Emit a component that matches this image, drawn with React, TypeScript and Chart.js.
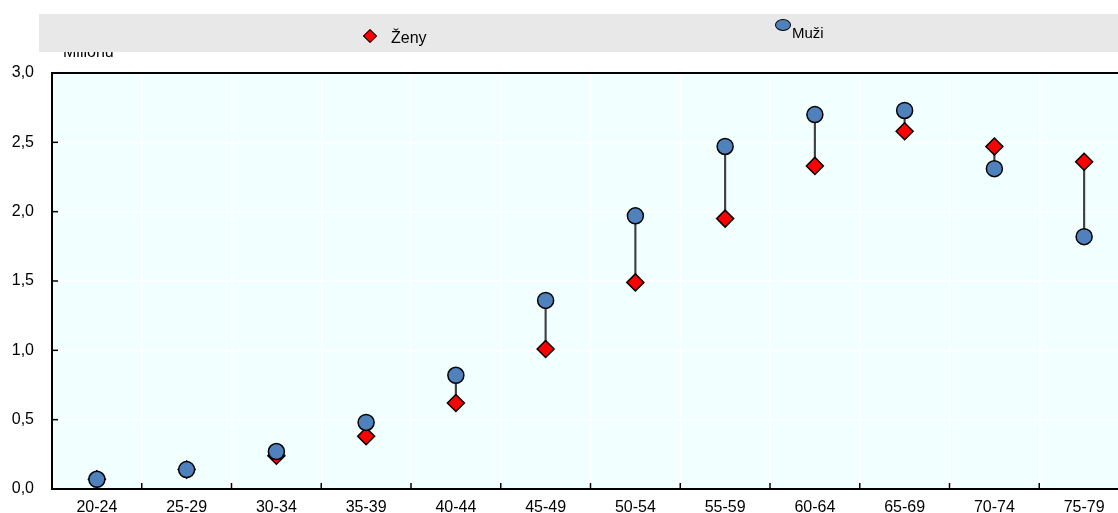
import React, { useEffect, useRef } from "react";
import { Chart, registerables } from "chart.js";

Chart.register(...registerables);

const categories = ["20-24", "25-29", "30-34", "35-39", "40-44", "45-49", "50-54", "55-59", "60-64", "65-69", "70-74", "75-79"];
const muzi = [0.07, 0.14, 0.27, 0.48, 0.82, 1.36, 1.97, 2.47, 2.70, 2.73, 2.31, 1.82];
const zeny = [0.07, 0.14, 0.24, 0.38, 0.62, 1.01, 1.49, 1.95, 2.33, 2.58, 2.47, 2.36];
const yMin = 0;
const yMax = 3;
const yStep = 0.5;
const seriesNames = ["Ženy", "Muži"];
const yTitle = "Milionů";

const FONT = "'Liberation Sans', Arial, sans-serif";
const CANVAS_W = 1129;

const plotDecor = {
  id: "plotDecor",
  beforeDraw(chart: any) {
    const { ctx, chartArea } = chart;
    ctx.save();
    ctx.fillStyle = "#F2FFFF";
    ctx.fillRect(chartArea.left, chartArea.top, chartArea.right - chartArea.left, chartArea.bottom - chartArea.top);
    ctx.restore();
  },
  afterDatasetsDraw(chart: any) {
    const { ctx, chartArea, scales } = chart;
    ctx.save();
    ctx.strokeStyle = "#000";
    ctx.lineWidth = 2;
    ctx.beginPath();
    ctx.moveTo(chartArea.left - 1, chartArea.top);
    ctx.lineTo(chartArea.right, chartArea.top);
    ctx.stroke();
    ctx.lineWidth = 1.5;
    const xs = scales.x;
    const n = categories.length;
    for (let i = 1; i < n; i++) {
      const px = (xs.getPixelForValue(i - 1) + xs.getPixelForValue(i)) / 2;
      ctx.beginPath();
      ctx.moveTo(px, chartArea.bottom);
      ctx.lineTo(px, chartArea.bottom - 6);
      ctx.stroke();
    }
    const ys = scales.y;
    for (let v = yMin + yStep; v < yMax; v += yStep) {
      const py = ys.getPixelForValue(v);
      ctx.beginPath();
      ctx.moveTo(chartArea.left, py);
      ctx.lineTo(chartArea.left + 6, py);
      ctx.stroke();
    }
    ctx.restore();
  },
};

export default function App() {
  const ref = useRef<HTMLCanvasElement | null>(null);

  useEffect(() => {
    if (!ref.current) return;
    const chart = new Chart(ref.current, {
      data: {
        labels: categories,
        datasets: [
          {
            type: "line",
            label: seriesNames[1],
            data: muzi,
            showLine: false,
            pointStyle: "circle",
            pointRadius: 8,
            pointBackgroundColor: "#4F81BD",
            pointBorderColor: "#000",
            pointBorderWidth: 1.5,
            order: 1,
          },
          {
            type: "line",
            label: seriesNames[0],
            data: zeny,
            showLine: false,
            pointStyle: "rectRot",
            pointRadius: 8.5,
            pointBackgroundColor: "#FF0000",
            pointBorderColor: "#000",
            pointBorderWidth: 1.5,
            order: 2,
          },
          {
            type: "bar",
            label: "range",
            data: zeny.map((z, i) => [z, muzi[i]]),
            backgroundColor: "#404040",
            borderWidth: 0,
            barThickness: 1.5,
            order: 3,
          },
        ],
      } as any,
      options: {
        animation: false,
        responsive: false,
        events: [],
        layout: { autoPadding: false, padding: { top: 73, right: 0, left: 0, bottom: 0 } },
        plugins: { legend: { display: false }, tooltip: { enabled: false } },
        scales: {
          x: {
            type: "category",
            offset: true,
            grid: { color: "#FFFFFF", lineWidth: 1.5, offset: true, drawTicks: false },
            border: { color: "#000", width: 2 },
            ticks: { color: "#000", font: { family: FONT, size: 16 }, padding: 9, maxRotation: 0, autoSkip: false },
            afterFit(scale: any) {
              scale.height = 24;
              scale.paddingLeft = 0;
              scale.paddingRight = 0;
            },
          },
          y: {
            min: yMin,
            max: yMax,
            grid: { color: "#FFFFFF", lineWidth: 1.5, drawTicks: false },
            border: { color: "#000", width: 2 },
            ticks: {
              stepSize: yStep,
              color: "#000",
              font: { family: FONT, size: 16 },
              padding: 18,
              callback: (v: any) => Number(v).toFixed(1).replace(".", ","),
            },
            afterFit(scale: any) {
              scale.width = 52;
              scale.paddingTop = 0;
              scale.paddingBottom = 0;
            },
          },
        },
      } as any,
      plugins: [plotDecor],
    });
    return () => chart.destroy();
  }, []);

  return (
    <div style={{ position: "fixed", left: 0, top: 0, width: 1118, height: 513, overflow: "hidden", background: "#fff", fontFamily: FONT }}>
      <canvas ref={ref} width={CANVAS_W} height={513} style={{ position: "absolute", left: 0, top: 0, width: CANVAS_W, height: 513 }} />
      <span style={{ position: "absolute", left: 63, top: 44, fontSize: 16, lineHeight: "16px", color: "#000", zIndex: 1, whiteSpace: "nowrap" }}>{yTitle}</span>
      <div style={{ position: "absolute", left: 39, top: 14, width: 1079, height: 38, background: "#E8E8E8", zIndex: 2 }}>
        <div style={{ position: "absolute", left: 326, top: 17, width: 8, height: 8, background: "#FF0000", border: "1px solid #000", transform: "rotate(45deg)" }} />
        <span style={{ position: "absolute", left: 352, top: 15, fontSize: 16, lineHeight: "18px", color: "#000", whiteSpace: "nowrap" }}>{seriesNames[0]}</span>
        <div style={{ position: "absolute", left: 736, top: 5, width: 14, height: 10, borderRadius: "50%", background: "#4F81BD", border: "1px solid #000" }} />
        <span style={{ position: "absolute", left: 753, top: 10, fontSize: 15, lineHeight: "17px", color: "#000", whiteSpace: "nowrap" }}>{seriesNames[1]}</span>
      </div>
    </div>
  );
}
